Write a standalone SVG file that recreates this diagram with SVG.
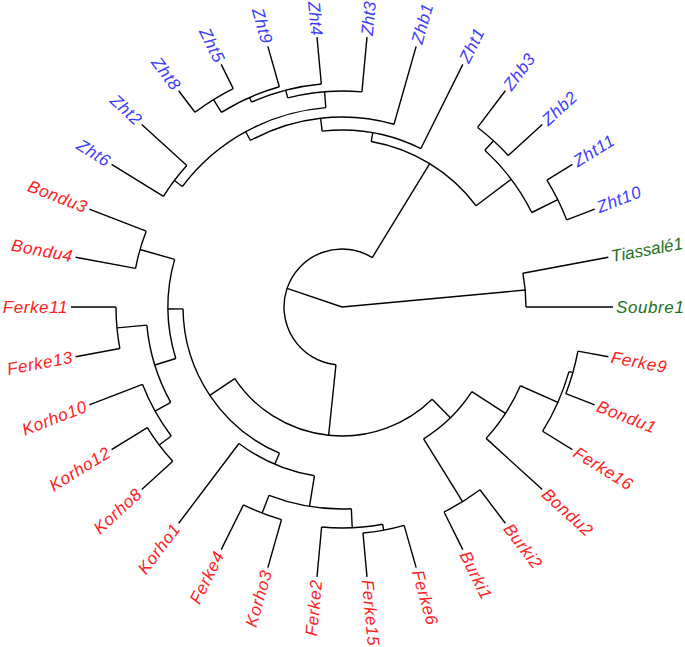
<svg xmlns="http://www.w3.org/2000/svg" width="685" height="647" viewBox="0 0 685 647">
<style>
.br{fill:none;stroke:#000;stroke-width:1.4;stroke-linejoin:miter}
.lbl{font-family:"Liberation Sans",Arial,sans-serif;font-size:17px;font-style:italic;letter-spacing:0.6px;dominant-baseline:central}
.tight{letter-spacing:0}
.r{fill:#ff2020}.b{fill:#3c3cff}.g{fill:#227022}
.e{text-anchor:end}
</style>
<rect width="685" height="647" fill="#fff"/>
<g id="connectors" class="br">
<path d="M287.07 288.39L342 307L525.21 290.02"/>
<path d="M522.87 273.19A184 184 0 0 1 526 307"/>
<path d="M372.28 257.53A58 58 0 1 0 335.98 364.69"/>
<path d="M372.28 257.53L429.72 163.72"/>
<path d="M371.20 141.56A168 168 0 0 1 476.07 205.76"/>
<path d="M371.20 141.56L372.76 132.69"/>
<path d="M322.11 131.12A177 177 0 0 1 420.90 148.56"/>
<path d="M322.11 131.12L320.65 118.20"/>
<path d="M250.51 140.48A190 190 0 0 1 393.99 124.25"/>
<path d="M250.51 140.48L245.69 131.72"/>
<path d="M182.40 186.47A200 200 0 0 1 325.85 107.65"/>
<path d="M182.40 186.47L174.42 180.45"/>
<path d="M163.45 196.45A210 210 0 0 1 186.81 165.52"/>
<path d="M325.85 107.65L324.56 91.71"/>
<path d="M287.70 97.94A216 216 0 0 1 361.93 91.92"/>
<path d="M287.70 97.94L285.69 90.19"/>
<path d="M251.52 102.08A224 224 0 0 1 321.33 83.96"/>
<path d="M251.52 102.08L249.50 97.51"/>
<path d="M221.45 112.30A229 229 0 0 1 279.33 86.74"/>
<path d="M221.45 112.30L213.55 99.55"/>
<path d="M194.96 112.28A244 244 0 0 1 233.24 88.58"/>
<path d="M476.07 205.76L511.18 179.24"/>
<path d="M484.82 150.33A212 212 0 0 1 531.77 212.50"/>
<path d="M484.82 150.33L493.58 140.72"/>
<path d="M477.59 127.45A225 225 0 0 1 508.28 155.42"/>
<path d="M531.77 212.50L557.73 199.58"/>
<path d="M546.90 180.13A241 241 0 0 1 566.73 219.94"/>
<path d="M335.98 364.69L328.61 435.30"/>
<path d="M432.16 399.26A129 129 0 0 1 234.74 378.67"/>
<path d="M432.16 399.26L450.33 417.86"/>
<path d="M471.86 391.62A155 155 0 0 1 423.60 438.78"/>
<path d="M423.60 438.78L462.55 501.70"/>
<path d="M480.00 489.75A229 229 0 0 1 444.07 511.99"/>
<path d="M471.86 391.62L505.38 413.46"/>
<path d="M520.39 385.76A195 195 0 0 1 486.11 438.37"/>
<path d="M520.39 385.76L557.89 402.32"/>
<path d="M568.99 371.58A236 236 0 0 1 542.65 431.24"/>
<path d="M568.99 371.58L572.84 372.68"/>
<path d="M577.91 351.10A240 240 0 0 1 565.79 393.70"/>
<path d="M234.74 378.67L209.80 395.34"/>
<path d="M279.46 453.18A159 159 0 0 1 183.01 308.84"/>
<path d="M279.46 453.18L274.74 464.22"/>
<path d="M314.47 475.77A171 171 0 0 1 238.95 443.46"/>
<path d="M314.47 475.77L309.48 506.36"/>
<path d="M351.33 508.78A202 202 0 0 1 269.03 495.36"/>
<path d="M351.33 508.78L352.21 527.76"/>
<path d="M382.61 524.24A221 221 0 0 1 321.61 527.06"/>
<path d="M382.61 524.24L383.71 530.13"/>
<path d="M404.12 525.34A227 227 0 0 1 362.95 533.03"/>
<path d="M269.03 495.36L262.17 513.08"/>
<path d="M281.52 519.56A221 221 0 0 1 243.49 504.83"/>
<path d="M183.01 308.84L168.01 309.01"/>
<path d="M175.79 358.47A174 174 0 0 1 174.64 259.38"/>
<path d="M174.64 259.38L140.02 249.53"/>
<path d="M135.58 268.41A210 210 0 0 1 146.18 231.14"/>
<path d="M175.79 358.47L154.77 364.98"/>
<path d="M170.77 402.38A196 196 0 0 1 146.84 325.08"/>
<path d="M146.84 325.08L116.96 327.85"/>
<path d="M119.85 348.53A226 226 0 0 1 116 307"/>
<path d="M170.77 402.38L155.05 411.13"/>
<path d="M171.22 435.96A214 214 0 0 1 142.45 384.31"/>
<path d="M171.22 435.96L159.25 445.00"/>
<path d="M172.77 461.28A229 229 0 0 1 147.30 427.55"/>
<path d="M526 307L613 307M522.87 273.19L608.38 257.20M577.91 351.10L608.38 356.80M565.79 393.70L594.70 404.90M542.65 431.24L572.41 449.66M486.11 438.37L542.27 489.57M480.00 489.75L505.31 523.26M444.07 511.99L462.80 549.59M404.12 525.34L416.16 567.66M362.95 533.03L367.01 576.84M321.61 527.06L316.99 576.84M281.52 519.56L267.84 567.66M243.49 504.83L221.20 549.59M238.95 443.46L178.68 523.26M172.77 461.28L141.73 489.57M147.30 427.55L111.59 449.66M142.45 384.31L89.30 404.90M119.85 348.53L75.62 356.80M116 307L71 307M135.58 268.41L75.62 257.20M146.18 231.14L89.30 209.10M163.45 196.45L111.59 164.34M186.81 165.52L141.73 124.43M194.96 112.28L178.68 90.74M233.24 88.58L221.20 64.41M279.33 86.74L267.84 46.34M321.33 83.96L316.99 37.16M361.93 91.92L367.01 37.16M393.99 124.25L416.16 46.34M420.90 148.56L462.80 64.41M477.59 127.45L505.32 90.74M508.28 155.42L542.27 124.43M546.90 180.13L572.41 164.34M566.73 219.94L594.70 209.10"/>
</g>
<g id="tip-Soubre1"><text class="lbl g" transform="translate(616 307)">Soubre1</text></g>
<g id="tip-Tiassale1"><text class="lbl g tight" transform="translate(611.33 256.65) rotate(-10.588)">Tiassalé1</text></g>
<g id="tip-Ferke9"><text class="lbl r" transform="translate(611.33 357.35) rotate(10.588)">Ferke9</text></g>
<g id="tip-Bondu1"><text class="lbl r" transform="translate(597.50 405.98) rotate(21.176)">Bondu1</text></g>
<g id="tip-Ferke16"><text class="lbl r" transform="translate(574.96 451.24) rotate(31.765)">Ferke16</text></g>
<g id="tip-Bondu2"><text class="lbl r" transform="translate(544.49 491.59) rotate(42.353)">Bondu2</text></g>
<g id="tip-Burki2"><text class="lbl r" transform="translate(507.12 525.66) rotate(52.941)">Burki2</text></g>
<g id="tip-Burki1"><text class="lbl r" transform="translate(464.13 552.27) rotate(63.529)">Burki1</text></g>
<g id="tip-Ferke6"><text class="lbl r" transform="translate(416.98 570.54) rotate(74.118)">Ferke6</text></g>
<g id="tip-Ferke15"><text class="lbl r" transform="translate(367.28 579.83) rotate(84.706)">Ferke15</text></g>
<g id="tip-Ferke2"><text class="lbl r e" transform="translate(316.72 579.83) rotate(-84.706)">Ferke2</text></g>
<g id="tip-Korho3"><text class="lbl r e" transform="translate(267.02 570.54) rotate(-74.118)">Korho3</text></g>
<g id="tip-Ferke4"><text class="lbl r e" transform="translate(219.87 552.27) rotate(-63.529)">Ferke4</text></g>
<g id="tip-Korho1"><text class="lbl r e" transform="translate(176.88 525.66) rotate(-52.941)">Korho1</text></g>
<g id="tip-Korho8"><text class="lbl r e" transform="translate(139.51 491.59) rotate(-42.353)">Korho8</text></g>
<g id="tip-Korho12"><text class="lbl r e" transform="translate(109.04 451.24) rotate(-31.765)">Korho12</text></g>
<g id="tip-Korho10"><text class="lbl r e" transform="translate(86.50 405.98) rotate(-21.176)">Korho10</text></g>
<g id="tip-Ferke13"><text class="lbl r e" transform="translate(72.67 357.35) rotate(-10.588)">Ferke13</text></g>
<g id="tip-Ferke11"><text class="lbl r e" transform="translate(68 307)">Ferke11</text></g>
<g id="tip-Bondu4"><text class="lbl r e" transform="translate(72.67 256.65) rotate(10.588)">Bondu4</text></g>
<g id="tip-Bondu3"><text class="lbl r e" transform="translate(86.50 208.02) rotate(21.176)">Bondu3</text></g>
<g id="tip-Zht6"><text class="lbl b e" transform="translate(109.04 162.76) rotate(31.765)">Zht6</text></g>
<g id="tip-Zht2"><text class="lbl b e" transform="translate(139.51 122.41) rotate(42.353)">Zht2</text></g>
<g id="tip-Zht8"><text class="lbl b e" transform="translate(176.88 88.34) rotate(52.941)">Zht8</text></g>
<g id="tip-Zht5"><text class="lbl b e" transform="translate(219.87 61.73) rotate(63.529)">Zht5</text></g>
<g id="tip-Zht9"><text class="lbl b e" transform="translate(267.02 43.46) rotate(74.118)">Zht9</text></g>
<g id="tip-Zht4"><text class="lbl b e tight" transform="translate(316.72 35.5) rotate(84.706)">Zht4</text></g>
<g id="tip-Zht3"><text class="lbl b tight" transform="translate(367.28 35.5) rotate(-84.706)">Zht3</text></g>
<g id="tip-Zhb1"><text class="lbl b" transform="translate(416.98 43.46) rotate(-74.118)">Zhb1</text></g>
<g id="tip-Zht1"><text class="lbl b" transform="translate(464.13 61.73) rotate(-63.529)">Zht1</text></g>
<g id="tip-Zhb3"><text class="lbl b" transform="translate(507.12 88.34) rotate(-52.941)">Zhb3</text></g>
<g id="tip-Zhb2"><text class="lbl b" transform="translate(544.49 122.41) rotate(-42.353)">Zhb2</text></g>
<g id="tip-Zht11"><text class="lbl b" transform="translate(574.96 162.76) rotate(-31.765)">Zht11</text></g>
<g id="tip-Zht10"><text class="lbl b" transform="translate(597.50 208.02) rotate(-21.176)">Zht10</text></g>
</svg>
